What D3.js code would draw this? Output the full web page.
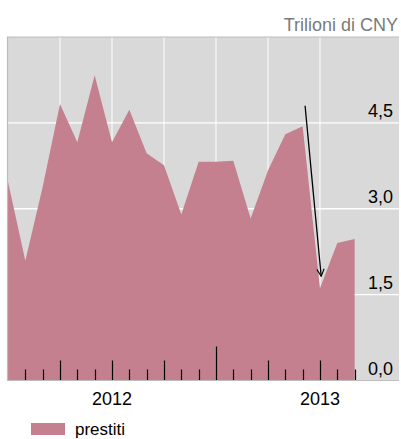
<!DOCTYPE html>
<html>
<head>
<meta charset="utf-8">
<script src="https://cdnjs.cloudflare.com/ajax/libs/d3/7.8.5/d3.min.js"></script>
<style>
	body { margin: 0; background: #fff; }
	text { font-family: "Liberation Sans", Arial, sans-serif; }
</style>
</head>
<body>
<div id="chart"></div>
<script>
//Width and height
var w = 401;
var h = 439;

//data: monthly, Jan 2012 - Sep 2013 (trillion CNY)
var months = ["2012-01", "2012-02", "2012-03", "2012-04", "2012-05", "2012-06", "2012-07",
			  "2012-08", "2012-09", "2012-10", "2012-11", "2012-12", "2013-01", "2013-02",
			  "2013-03", "2013-04", "2013-05", "2013-06", "2013-07", "2013-08", "2013-09"];
var prestiti = [3.47, 2.09, 3.38, 4.83, 4.16, 5.33, 4.16, 4.73, 3.97, 3.76, 2.90,
				3.82, 3.82, 3.84, 2.83, 3.67, 4.30, 4.44, 1.61, 2.40, 2.47];
var yTicks = [0, 1.5, 3, 4.5];
var yearLabels = ["2012", "2013"];
var arrowFrom = [17.14, 4.80];	// [month index, value]
var arrowTo = [18.07, 1.82];

var plot = { left: 8, right: 399, top: 37, bottom: 380.5 };

var x = d3.scaleLinear()
		  .domain([0, 22.56])
		  .range([plot.left, plot.right]);

var y = d3.scaleLinear()
		  .domain([0, 6])
		  .range([plot.bottom, plot.top]);

var fmt = function(d) { return d3.format(".1f")(d).replace(".", ","); };

//Create SVG element
var svg = d3.select("#chart")
			.append("svg")
			.attr("width", w)
			.attr("height", h);

svg.append("defs").append("marker")
   .attr("id", "head")
   .attr("viewBox", "0 0 10 10")
   .attr("refX", 9)
   .attr("refY", 5)
   .attr("markerWidth", 7)
   .attr("markerHeight", 7)
   .attr("orient", "auto")
   .append("path")
   .attr("d", "M1,1 L9,5 L1,9")
   .attr("fill", "none")
   .attr("stroke", "#000")
   .attr("stroke-width", 1.2);

//background
svg.append("rect")
   .attr("x", plot.left)
   .attr("y", plot.top)
   .attr("width", plot.right - plot.left)
   .attr("height", plot.bottom - plot.top)
   .attr("fill", "#d9d9d9");

//vertical grid, every quarter
svg.selectAll("line.vgrid")
   .data([3, 6, 9, 12, 15, 18])
   .enter()
   .append("line")
   .attr("class", "vgrid")
   .attr("x1", function(d) { return x(d); })
   .attr("x2", function(d) { return x(d); })
   .attr("y1", plot.top)
   .attr("y2", plot.bottom)
   .attr("stroke", "#fff")
   .attr("stroke-width", 1);

//horizontal grid
svg.selectAll("line.hgrid")
   .data(yTicks.slice(1))
   .enter()
   .append("line")
   .attr("class", "hgrid")
   .attr("x1", plot.left)
   .attr("x2", plot.right)
   .attr("y1", function(d) { return y(d); })
   .attr("y2", function(d) { return y(d); })
   .attr("stroke", "#fff")
   .attr("stroke-width", 1.3);

//area
var area = d3.area()
			 .x(function(d, i) { return x(i); })
			 .y0(y(0))
			 .y1(function(d) { return y(d); });

svg.append("path")
   .datum(prestiti)
   .attr("d", area)
   .attr("fill", "#c4808f");

//frame
svg.append("path")
   .attr("d", "M" + plot.right + "," + plot.top + " H" + (plot.left - 0.5) + " V" + plot.bottom + " H" + plot.right)
   .attr("fill", "none")
   .attr("stroke", "#bdbdbd")
   .attr("stroke-width", 1.2);

//month ticks
var tickMonths = d3.range(1, months.length);
svg.selectAll("line.tick")
   .data(tickMonths)
   .enter()
   .append("line")
   .attr("class", "tick")
   .attr("x1", function(d) { return Math.round(x(d)) + 0.5; })
   .attr("x2", function(d) { return Math.round(x(d)) + 0.5; })
   .attr("y1", function(d) {
		if (d % 12 == 0) return plot.bottom - 34;
		if (d % 3 == 0) return plot.bottom - 20;
		return plot.bottom - 11;
   })
   .attr("y2", plot.bottom - 0.5)
   .attr("stroke", "#000")
   .attr("stroke-width", 1.2);

//year labels
svg.selectAll("text.year")
   .data(yearLabels)
   .enter()
   .append("text")
   .attr("class", "year")
   .text(function(d) { return d; })
   .attr("text-anchor", "middle")
   .attr("x", function(d, i) { return x(6 + i * 12); })
   .attr("y", 404.5)
   .attr("font-size", "18px")
   .attr("fill", "#000");

//y labels
svg.selectAll("text.ylab")
   .data(yTicks)
   .enter()
   .append("text")
   .attr("class", "ylab")
   .text(fmt)
   .attr("text-anchor", "end")
   .attr("x", 393)
   .attr("y", function(d) { return y(d) - 5.5; })
   .attr("font-size", "18px")
   .attr("fill", "#000");

//unit
svg.append("text")
   .text("Trilioni di CNY")
   .attr("text-anchor", "end")
   .attr("x", 398)
   .attr("y", 30.5)
   .attr("font-size", "18px")
   .attr("fill", "#7a7a7a");

//arrow
svg.append("line")
   .attr("x1", x(arrowFrom[0]))
   .attr("y1", y(arrowFrom[1]))
   .attr("x2", x(arrowTo[0]))
   .attr("y2", y(arrowTo[1]))
   .attr("stroke", "#000")
   .attr("stroke-width", 1.3)
   .attr("marker-end", "url(#head)");

//legend
svg.append("rect")
   .attr("x", 31)
   .attr("y", 423)
   .attr("width", 34)
   .attr("height", 12)
   .attr("fill", "#c4808f");

svg.append("text")
   .text("prestiti")
   .attr("x", 75)
   .attr("y", 435)
   .attr("font-size", "17px")
   .attr("fill", "#000");
</script>
</body>
</html>
